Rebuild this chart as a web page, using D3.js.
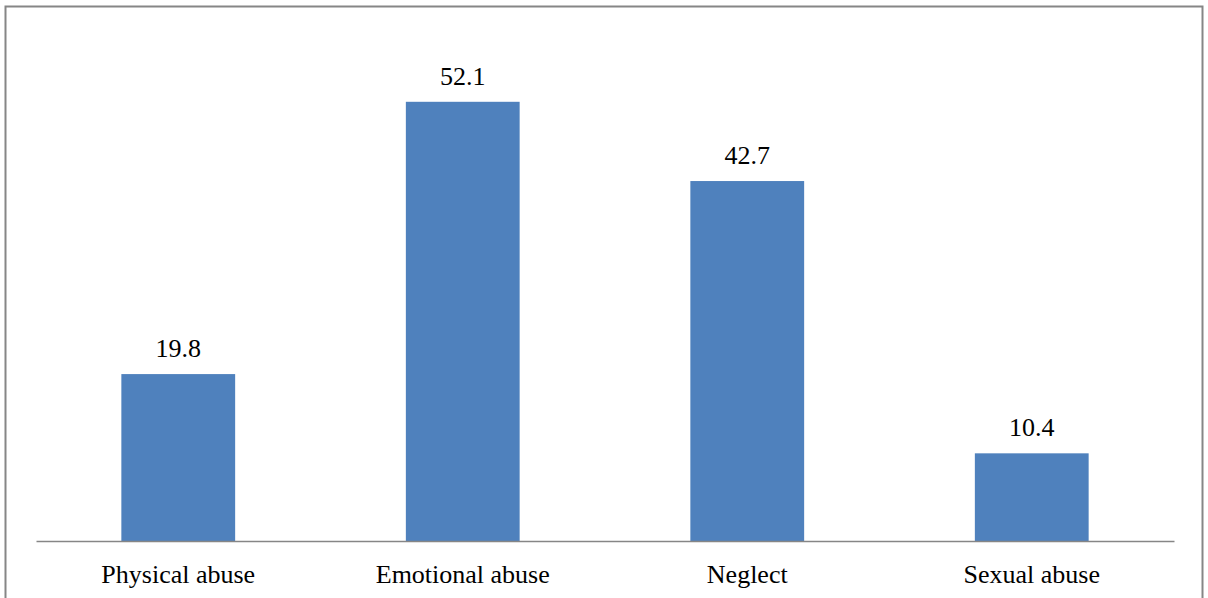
<!DOCTYPE html>
<html>
<head>
<meta charset="utf-8">
<script src="https://cdn.jsdelivr.net/npm/d3@7"></script>
<style>
html,body{margin:0;padding:0;background:#fff;}
svg{display:block;}
</style>
</head>
<body>
<svg id="chart" width="1208" height="598"></svg>
<script>
const categories = ["Physical abuse", "Emotional abuse", "Neglect", "Sexual abuse"];
const values = [19.8, 52.1, 42.7, 10.4];
const yDomain = [0, 60];

const FONT = "'Liberation Serif', 'DejaVu Serif', 'Liberation Sans', serif";
const FS = 26;
const svg = d3.select("#chart");

// outer frame
svg.append("rect")
  .attr("x", 5.5).attr("y", 6.5)
  .attr("width", 1197).attr("height", 620)
  .attr("fill", "none").attr("stroke", "#868686").attr("stroke-width", 2);

const x = d3.scaleBand().domain(categories).range([36, 1174]).padding(0);
const y = d3.scaleLinear().domain(yDomain).range([541, 35.2]);

const barW = x.bandwidth() * 0.4;

svg.append("g").selectAll("rect")
  .data(categories)
  .join("rect")
  .attr("x", d => x(d) + (x.bandwidth() - barW) / 2)
  .attr("y", (d, i) => y(values[i]))
  .attr("width", barW)
  .attr("height", (d, i) => y(0) - y(values[i]))
  .attr("fill", "#4F81BD");

// baseline axis
const xAxis = d3.axisBottom(x).tickSize(0).tickPadding(0);
const gx = svg.append("g").attr("transform", `translate(0,${y(0)})`).call(xAxis);
gx.attr("font-family", FONT).attr("font-size", FS);
gx.select(".domain").attr("stroke", "#868686").attr("stroke-width", 1.5);
gx.selectAll(".tick text")
  .attr("y", 42).attr("dy", null)
  .attr("font-family", FONT)
  .attr("font-size", FS)
  .attr("fill", "#000");

// value labels
svg.append("g").selectAll("text")
  .data(categories)
  .join("text")
  .attr("x", d => x(d) + x.bandwidth() / 2)
  .attr("y", (d, i) => y(values[i]) - 17)
  .attr("text-anchor", "middle")
  .attr("font-family", FONT)
  .attr("font-size", FS)
  .attr("fill", "#000")
  .text((d, i) => values[i].toFixed(1));
</script>
</body>
</html>
